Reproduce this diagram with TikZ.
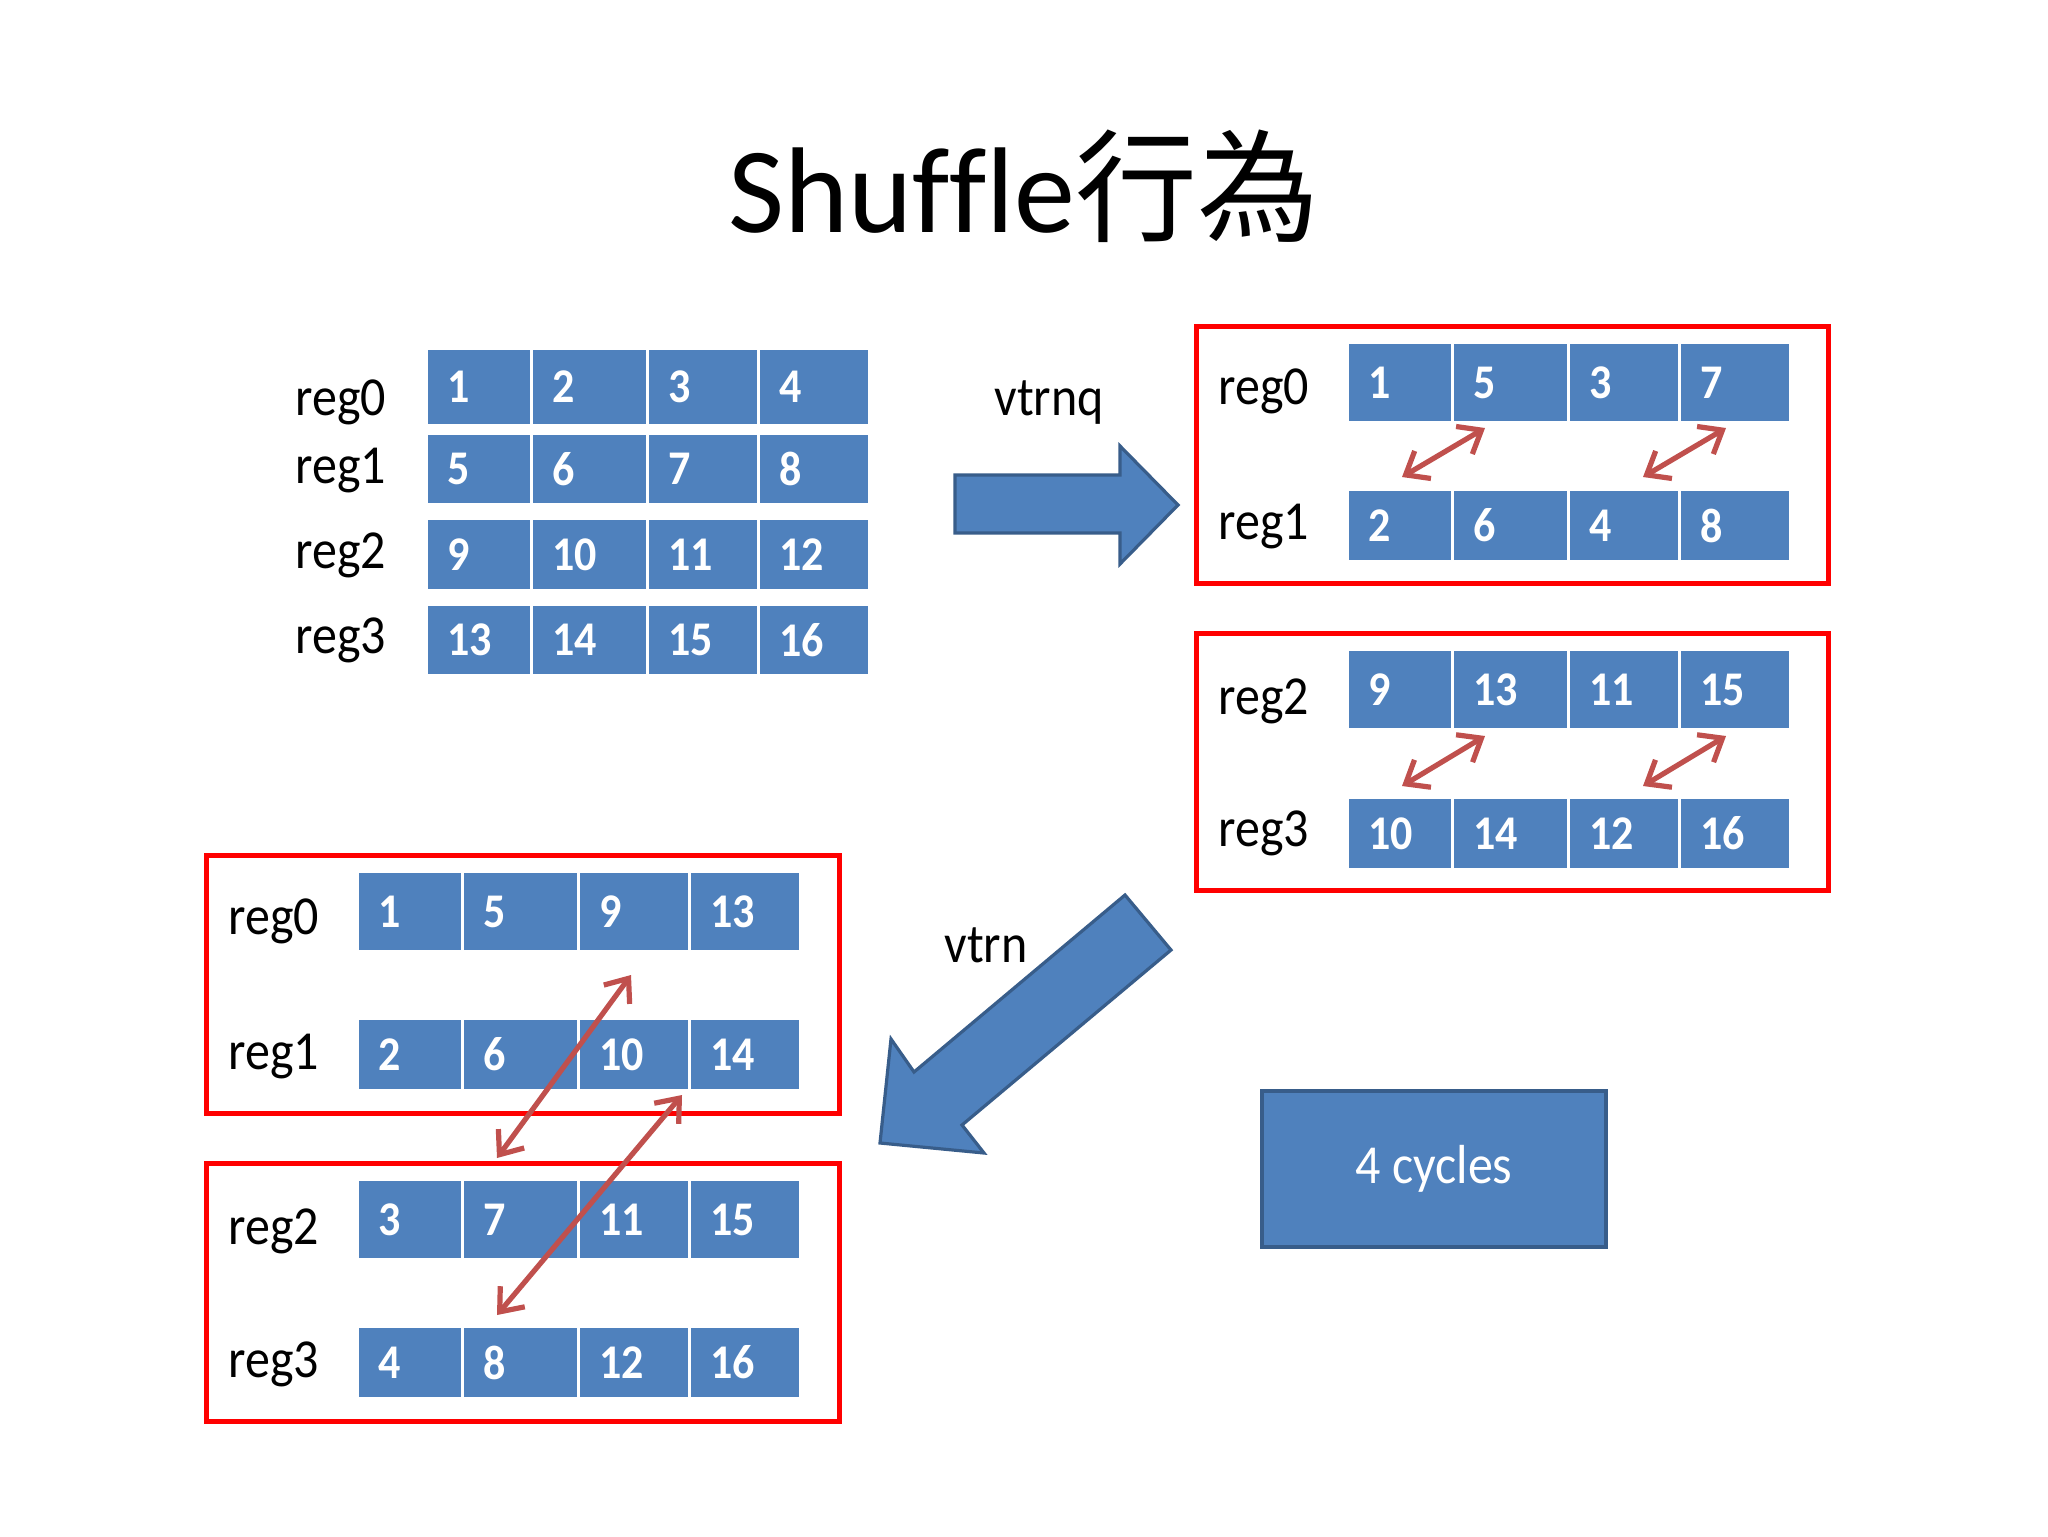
\documentclass[tikz,border=0pt]{standalone}
\usepackage{graphicx}
\usepackage{fontspec}
\setmainfont{Carlito}
\newfontfamily\titlefont{Carlito}[Ligatures=NoCommon]
\newfontfamily\cjk{Noto Sans CJK TC}
\usetikzlibrary{arrows.meta}
\definecolor{cellblue}{HTML}{4F81BD}
\definecolor{edgeblue}{HTML}{385D8A}
\definecolor{arrowred}{HTML}{C0504D}
\definecolor{boxred}{HTML}{FF0000}
\newcommand\vs[1]{\scalebox{1}[1.1]{#1}}
\tikzset{
  cellst/.style={fill=cellblue, draw=none, inner sep=0pt, outer sep=0pt},
  num/.style={font=\bfseries\fontsize{22}{26}\selectfont, text=white, inner sep=0pt},
  lab/.style={font=\fontsize{25}{30}\selectfont, anchor=base west, inner sep=0pt},
  redbox/.style={draw=boxred, line width=2.7pt, anchor=north west, inner sep=0pt},
  swaparrow/.style={draw=arrowred, line width=2.6pt, <->, >={Straight Barb[length=10pt,width=16pt]}},
  blockarrow/.style={fill=cellblue, draw=edgeblue, line width=1.6pt, line join=miter},
}
\newcommand\mycell[6]{%
  \node[cellst, minimum width=#4*0.5pt, minimum height=#5*0.5pt] (#1) at ({#2+#4/2},{#3+#5/2}) {};
  \node[num, anchor=west] (#1-t) at ([xshift=9.5pt]#1.west) {\vs{#6}};
}
\newcommand\myrow[8]{%
  \mycell{#1a}{#2}{#3}{102}{#4}{#5}
  \mycell{#1b}{#2+105}{#3}{113}{#4}{#6}
  \mycell{#1c}{#2+221}{#3}{108}{#4}{#7}
  \mycell{#1d}{#2+332}{#3}{108}{#4}{#8}
}
\begin{document}
\begin{tikzpicture}[x=0.5pt, y=-0.5pt]
\useasboundingbox[fill=white] (0,0) rectangle (2048,1536);

% title
\node[font=\fontsize{61}{70}\titlefont, anchor=base, inner sep=0pt] (title) at (1024,232) {Shuffle{\cjk 行為}};

% initial registers
\node[lab] (l0) at (295,415) {\vs{reg0}};
\node[lab] (l1) at (295,483) {\vs{reg1}};
\node[lab] (l2) at (295,568) {\vs{reg2}};
\node[lab] (l3) at (295,653) {\vs{reg3}};
\myrow{g0}{428}{350}{74}{1}{2}{3}{4}
\myrow{g1}{428}{435}{68}{5}{6}{7}{8}
\myrow{g2}{428}{520}{69}{9}{10}{11}{12}
\myrow{g3}{428}{606}{68}{13}{14}{15}{16}

% vtrnq arrow
\node[lab] (vtrnq) at (994,415) {\vs{vtrnq}};
\draw[blockarrow] (955,475) -- (1120,475) -- (1120,446) -- (1178,505) -- (1120,564) -- (1120,533) -- (955,533) -- cycle;

% after vtrnq
\node[redbox, minimum width=632*0.5pt, minimum height=257*0.5pt] (box1) at (1194,324) {};
\node[redbox, minimum width=632*0.5pt, minimum height=257*0.5pt] (box2) at (1194,631) {};
\node[lab] (r0) at (1218,404) {\vs{reg0}};
\node[lab] (r1) at (1218,539) {\vs{reg1}};
\node[lab] (r2) at (1218,714) {\vs{reg2}};
\node[lab] (r3) at (1218,846) {\vs{reg3}};
\myrow{q0}{1349}{344}{77}{1}{5}{3}{7}
\myrow{q1}{1349}{491}{69}{2}{6}{4}{8}
\myrow{q2}{1349}{651}{77}{9}{13}{11}{15}
\myrow{q3}{1349}{799}{69}{10}{14}{12}{16}

% vtrn arrow
\node[lab] (vtrn) at (944,962) {\vs{vtrn}};
\draw[blockarrow] (1125,895) -- (1171,950) -- (962,1125) -- (984,1153) -- (880,1143) -- (891,1039) -- (914,1072) -- cycle;

% after vtrn
\node[redbox, minimum width=633*0.5pt, minimum height=258*0.5pt] (boxA) at (204,853) {};
\node[redbox, minimum width=633*0.5pt, minimum height=258*0.5pt] (boxB) at (204,1161) {};
\node[lab] (s0) at (228,934) {\vs{reg0}};
\node[lab] (s1) at (228,1069) {\vs{reg1}};
\node[lab] (s2) at (228,1244) {\vs{reg2}};
\node[lab] (s3) at (228,1377) {\vs{reg3}};
\myrow{t0}{359}{873}{77}{1}{5}{9}{13}
\myrow{t1}{359}{1020}{69}{2}{6}{10}{14}
\myrow{t2}{359}{1181}{77}{3}{7}{11}{15}
\myrow{t3}{359}{1328}{69}{4}{8}{12}{16}

% 4 cycles
\node[fill=cellblue, draw=edgeblue, line width=1.6pt, minimum width=344*0.5pt, minimum height=156*0.5pt, inner sep=0pt, text=white, font=\fontsize{25}{30}\selectfont] (cyc) at (1434,1169) {\vs{4 cycles}};

% swap arrows
\coordinate (a1s) at (1402,477); \coordinate (a1e) at (1485,428);
\coordinate (a2s) at (1643,477); \coordinate (a2e) at (1726,428);
\coordinate (a3s) at (1402,786); \coordinate (a3e) at (1485,736);
\coordinate (a4s) at (1643,786); \coordinate (a4e) at (1726,736);
\coordinate (b1s) at (497,1158); \coordinate (b1e) at (631,975);
\coordinate (b2s) at (497,1315); \coordinate (b2e) at (682,1095);
\draw[swaparrow] (a1s) -- (a1e);
\draw[swaparrow] (a2s) -- (a2e);
\draw[swaparrow] (a3s) -- (a3e);
\draw[swaparrow] (a4s) -- (a4e);
\draw[swaparrow] (b1s) -- (b1e);
\draw[swaparrow] (b2s) -- (b2e);
\end{tikzpicture}
\end{document}
